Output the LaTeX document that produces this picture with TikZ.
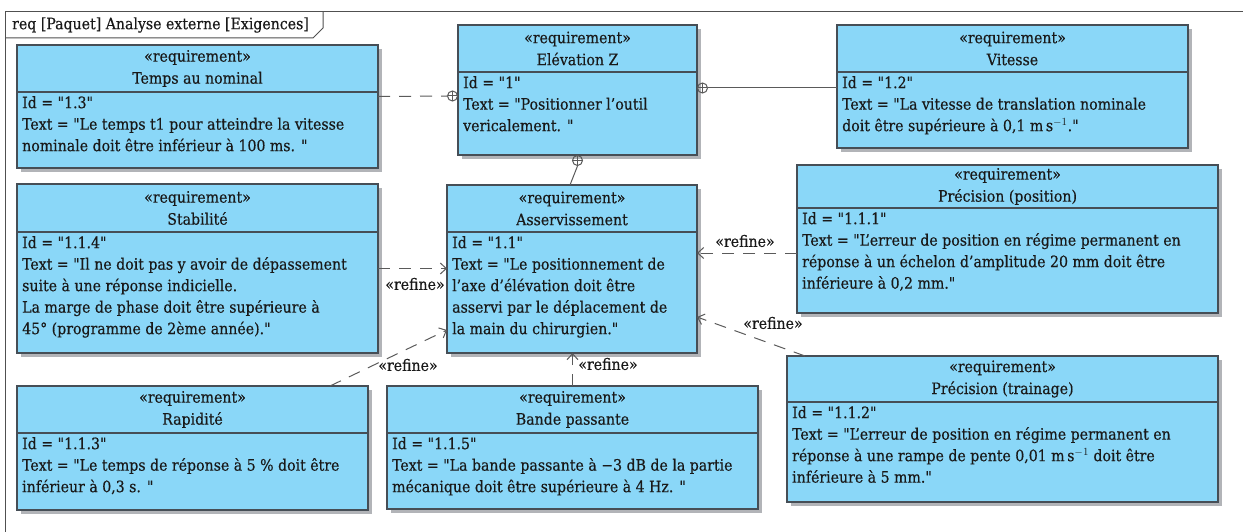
\documentclass[tikz,border=0pt]{standalone}
\usepackage{fontspec}
\setmainfont{DejaVu Serif Condensed}[FakeBold=0.4]
\usetikzlibrary{arrows.meta,shadows,calc}
\definecolor{reqblue}{RGB}{138,215,248}
\definecolor{edgecol}{RGB}{70,78,86}
\definecolor{shadecol}{RGB}{178,180,184}
\definecolor{conncol}{RGB}{90,90,90}
\definecolor{framecol}{RGB}{80,80,80}
\definecolor{txtcol}{RGB}{25,25,25}
\newcommand\dq{\XeTeXglyph\XeTeXcharglyph"22\relax}
\tikzset{
  reqbox/.style={draw=edgecol, line width=1.2pt, fill=reqblue, inner sep=0pt, outer sep=0pt, anchor=north west,
    drop shadow={shadow xshift=4pt, shadow yshift=-4pt, fill=shadecol, opacity=1}},
  divline/.style={draw=edgecol, line width=1.2pt},
  headtxt/.style={align=center, inner sep=0pt, text=txtcol, font=\fontsize{15.7}{22}\selectfont},
  bodytxt/.style={align=left, inner sep=0pt, anchor=north west, text=txtcol, font=\fontsize{15.7}{21.5}\selectfont},
  lbl/.style={inner sep=0pt, text=txtcol, font=\fontsize{15.7}{18}\selectfont},
  solidconn/.style={draw=conncol, line width=1pt},
  dconn/.style={draw=conncol, line width=1pt, dash pattern=on 12pt off 9pt},
  refine/.style={dconn, -{Straight Barb[length=6pt,width=11pt,line width=1pt]}},
  cplus/.style={draw=conncol, line width=1pt, circle, inner sep=0pt, minimum size=10pt,
    path picture={\draw[conncol, line width=1pt] (path picture bounding box.north) -- (path picture bounding box.south)
      (path picture bounding box.west) -- (path picture bounding box.east);}},
}
\newcommand\reqblock[8]{%
  \node[reqbox, minimum width={#4pt-#2pt}, minimum height={#5pt-#3pt}] (#1) at (#2,#3) {};
  \draw[divline] (#2,#6) -- (#4,#6);
  \node[headtxt] (#1-head) at ({(#2+#4)/2},{(#3+#6)/2}) {«requirement»\\#7};
  \node[bodytxt] (#1-body) at (#2+5,#6+4) {#8};
}
\begin{document}
\begin{tikzpicture}[x=1pt,y=-1pt]
\useasboundingbox (0,0) rectangle (1243,532);
% frame
\draw[framecol, line width=1pt] (5,532) -- (5,12) -- (1243,12);
\draw[framecol, line width=1pt] (5,38) -- (313,38) -- (323,28) -- (323,12);
\node[anchor=west, inner sep=0pt, text=txtcol, font=\fontsize{15.7}{18}\selectfont] (title) at (12,25) {req [Paquet] Analyse externe [Exigences]};
% blocks
\reqblock{temps}{17}{45}{378}{168}{92}{Temps au nominal}{Id = \dq1.3\dq\\Text = \dq Le temps t1 pour atteindre la vitesse\\nominale doit être inférieur à 100 ms. \dq}
\reqblock{elev}{458}{25}{697}{155}{72}{Elévation Z}{Id = \dq1\dq\\Text = \dq Positionner l’outil\\vericalement. \dq}
\reqblock{vit}{837}{25}{1188}{148}{72}{Vitesse}{Id = \dq1.2\dq\\Text = \dq La vitesse de translation nominale\\doit être supérieure à 0,1 m\,s$^{-1}$.\dq}
\reqblock{stab}{17}{184}{378}{353}{232}{Stabilité}{Id = \dq1.1.4\dq\\Text = \dq Il ne doit pas y avoir de dépassement\\suite à une réponse indicielle.\\La marge de phase doit être supérieure à\\45° (programme de 2ème année).\dq}
\reqblock{asserv}{447}{185}{697}{353}{232}{Asservissement}{Id = \dq1.1\dq\\Text = \dq Le positionnement de\\l’axe d’élévation doit être\\asservi par le déplacement de\\la main du chirurgien.\dq}
\reqblock{pos}{797}{165}{1218}{313}{208}{Précision (position)}{Id = \dq1.1.1\dq\\Text = \dq L’erreur de position en régime permanent en\\réponse à un échelon d’amplitude 20 mm doit être\\inférieure à 0,2 mm.\dq}
\reqblock{train}{787}{356}{1218}{502}{402}{Précision (trainage)}{Id = \dq1.1.2\dq\\Text = \dq L’erreur de position en régime permanent en\\réponse à une rampe de pente 0,01 m\,s$^{-1}$ doit être\\inférieure à 5 mm.\dq}
\reqblock{rapid}{17}{386}{368}{510}{433}{Rapidité}{Id = \dq1.1.3\dq\\Text = \dq Le temps de réponse à 5 \% doit être\\inférieur à 0,3 s. \dq}
\reqblock{bande}{387}{386}{758}{509}{433}{Bande passante}{Id = \dq1.1.5\dq\\Text = \dq La bande passante à −3 dB de la partie\\mécanique doit être supérieure à 4 Hz. \dq}
% containment connectors
\node[cplus, anchor=east] (cp1) at ([yshift=-6pt]elev.west) {};
\draw[dconn] ([yshift=10pt]temps.east) -- (cp1.west);
\node[cplus, anchor=west] (cp2) at ([yshift=2pt]elev.east) {};
\draw[solidconn] (cp2.east) -- (cp2.east -| vit.west);
\node[cplus, anchor=north] (cp3) at (elev.south) {};
\draw[solidconn] (cp3.south) -- ([xshift=-2pt]asserv.north);
% refine connectors
\draw[refine] (stab.east) -- (stab.east -| asserv.west);
\node[lbl] (l1) at (415,284) {«refine»};
\draw[refine] ([xshift=-38pt]rapid.north east) -- ([yshift=23pt]asserv.south west);
\node[lbl] (l2) at (408,365) {«refine»};
\draw[refine] (bande.north) -- (bande.north |- asserv.south);
\node[lbl] (l3) at (608,364) {«refine»};
\draw[refine] ([yshift=-14pt]pos.west) -- ([yshift=-14pt]pos.west -| asserv.east);
\node[lbl] (l4) at (745,241) {«refine»};
\draw[refine] ([xshift=18pt]train.north west) -- ([yshift=36pt]asserv.south east);
\node[lbl] (l5) at (773,323) {«refine»};
\end{tikzpicture}
\end{document}
